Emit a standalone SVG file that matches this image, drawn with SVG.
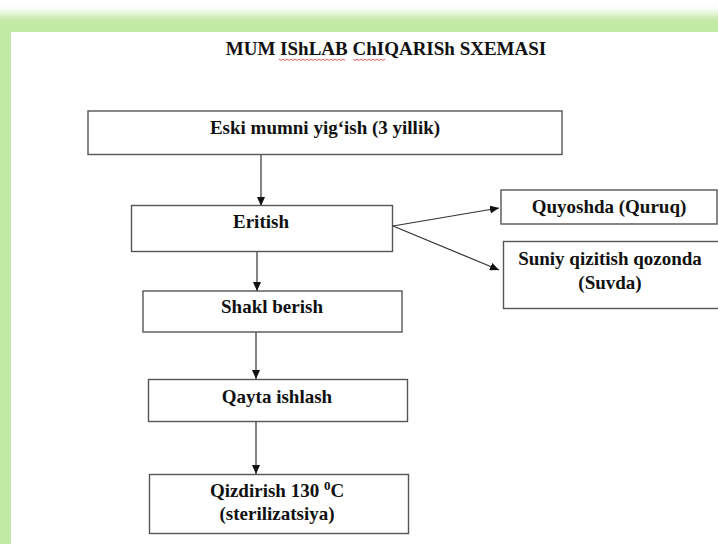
<svg xmlns="http://www.w3.org/2000/svg" width="718" height="544" viewBox="0 0 718 544">
<defs>
<filter id="blur" x="-10%" y="-10%" width="120%" height="120%"><feGaussianBlur stdDeviation="5"/></filter>
<marker id="arr" markerWidth="9" markerHeight="8" refX="9" refY="4" orient="auto" markerUnits="userSpaceOnUse"><path d="M0,0 L9,4 L0,8 z" fill="#111"/></marker>
<style>
.box{fill:#fff;stroke:#555;stroke-width:1.4}
.t{font-family:"Liberation Serif","Times New Roman",serif;font-weight:bold;font-size:19px;fill:#111;text-anchor:middle}
.c{stroke:#333;stroke-width:1.2;fill:none;marker-end:url(#arr)}
.sq{stroke:#d33;stroke-width:0.8;fill:none}
</style>
</defs>
<rect width="718" height="544" fill="#fff"/>
<rect x="-30" y="14" width="790" height="570" rx="14" fill="#c3e9a6" filter="url(#blur)"/>
<rect x="0" y="26" width="11" height="518" fill="#c3e9a6"/>
<rect x="11" y="32" width="707" height="512" fill="#fff"/>
<g id="title">
<text class="t" x="386" y="55">MUM IShLAB ChIQARISh SXEMASI</text>
<path class="sq" d="M279,59 l2,1.5 l2,-1.5 l2,1.5 l2,-1.5 l2,1.5 l2,-1.5 l2,1.5 l2,-1.5 l2,1.5 l2,-1.5 l2,1.5 l2,-1.5 l2,1.5 l2,-1.5 l2,1.5 l2,-1.5 l2,1.5 l2,-1.5 l2,1.5 l2,-1.5 l2,1.5 l2,-1.5 l2,1.5 l2,-1.5 l2,1.5 l2,-1.5 l2,1.5 l2,-1.5 l2,1.5 l2,-1.5 l2,1.5 l2,-1.5 l2,1.5"/>
<path class="sq" d="M353,59 l2,1.5 l2,-1.5 l2,1.5 l2,-1.5 l2,1.5 l2,-1.5 l2,1.5 l2,-1.5 l2,1.5 l2,-1.5 l2,1.5 l2,-1.5 l2,1.5 l2,-1.5 l2,1.5 l2,-1.5"/>
</g>
<g id="connectors">
<line class="c" x1="261" y1="155" x2="261" y2="206"/>
<line class="c" x1="257" y1="252" x2="257" y2="291"/>
<line class="c" x1="256" y1="332" x2="256" y2="379"/>
<line class="c" x1="256" y1="422" x2="256" y2="474"/>
<line class="c" x1="393" y1="226" x2="499" y2="208"/>
<line class="c" x1="393" y1="226" x2="499" y2="270"/>
</g>
<g id="n1"><rect class="box" x="88" y="111" width="474" height="43.5"/><text class="t" x="325" y="134">Eski mumni yig‘ish (3 yillik)</text></g>
<g id="n2"><rect class="box" x="131.5" y="205.5" width="261" height="46"/><text class="t" x="261" y="228">Eritish</text></g>
<g id="n3"><rect class="box" x="501" y="190" width="216" height="34"/><text class="t" x="609" y="213">Quyoshda (Quruq)</text></g>
<g id="n4"><rect class="box" x="503.5" y="241.5" width="216" height="67"/><text class="t" x="610" y="265">Suniy qizitish qozonda</text><text class="t" x="610" y="289">(Suvda)</text></g>
<g id="n5"><rect class="box" x="143" y="291" width="259" height="41"/><text class="t" x="272" y="313">Shakl berish</text></g>
<g id="n6"><rect class="box" x="148.5" y="379.5" width="259" height="42"/><text class="t" x="277" y="403">Qayta ishlash</text></g>
<g id="n7"><rect class="box" x="149.5" y="474.5" width="259" height="59"/><text class="t" x="277" y="497">Qizdirish 130 <tspan font-size="13" dy="-7">0</tspan><tspan dy="7">C</tspan></text><text class="t" x="277" y="520">(sterilizatsiya)</text></g>
</svg>
